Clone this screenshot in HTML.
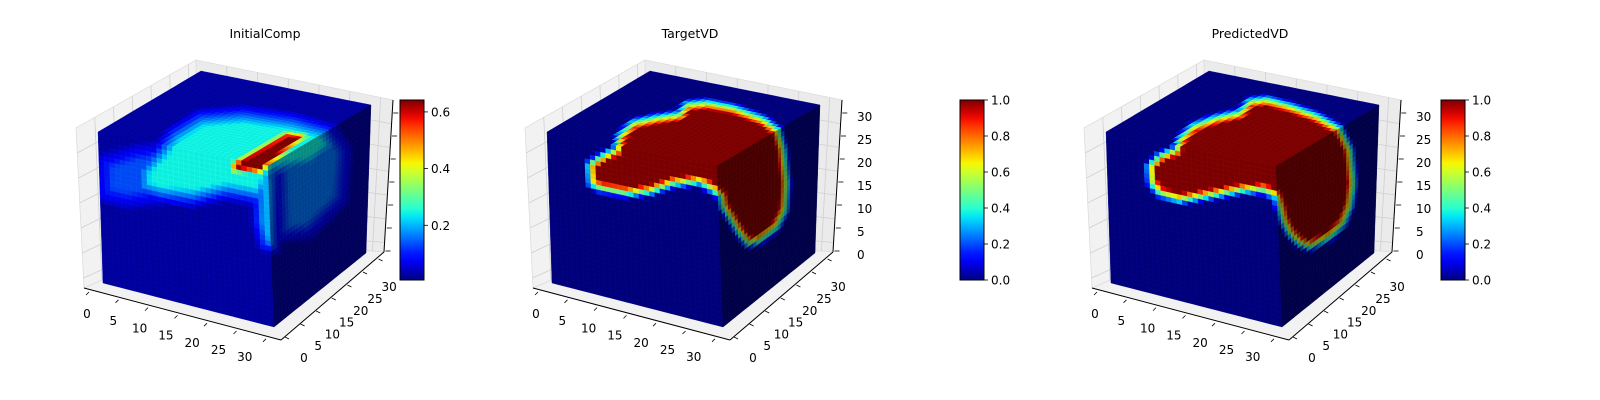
<!DOCTYPE html>
<html><head><meta charset="utf-8"><style>
html,body{margin:0;padding:0;background:#fff;}
svg{display:block;font-family:"DejaVu Sans","Liberation Sans",sans-serif;}
</style></head><body>
<svg id="chart" width="1600" height="400" viewBox="0 0 1600 400" xmlns="http://www.w3.org/2000/svg">
<rect width="1600" height="400" fill="#fff"/>
</svg>
<script>
// ---- data ----
const panelTitles = ["InitialComp", "TargetVD", "PredictedVD"];
const axisTickLabels = ["0", "5", "10", "15", "20", "25", "30"];
const cbarTicks1 = ["0.2", "0.4", "0.6"];
const cbarTickVals1 = [0.2, 0.4, 0.6];
const cbarRange1 = [0.007, 0.642];
const cbarTicks2 = ["0.0", "0.2", "0.4", "0.6", "0.8", "1.0"];
const cbarTickVals2 = [0, 0.2, 0.4, 0.6, 0.8, 1.0];
const cbarRange2 = [0, 1];
const baseLevel = [0.03, 0.0, 0.0];
// regions: points in zoomed coordinates (x3), normalized value, softness (px)
const regions1 = [
  {v:0.2, s:24, p:[[125,330],[230,300],[330,290],[360,380],[300,450],[200,460],[125,440]]},
  {v:0.37, s:22, p:[[240,360],[300,300],[340,250],[420,200],[550,190],[700,210],[800,240],[830,290],[760,350],[650,370],[620,420],[600,450],[560,440],[500,430],[400,450],[300,440],[240,420]]},
  {v:0.3, s:16, p:[[590,380],[650,370],[650,600],[610,590],[590,520]]},
  {v:0.24, s:24, p:[[650,260],[820,240],[860,300],[850,450],[750,550],[660,560]]},
  {v:1.0, s:10, p:[[515,340],[680,245],[745,255],[600,372],[515,365]]}
];
const regions2 = [
  {v:1.0, s:13, p:[[270,345],[300,325],[350,300],[360,260],[400,220],[470,205],[540,195],[560,165],[620,160],[700,175],[790,210],[835,245],[850,300],[860,400],[855,480],[830,530],[780,570],[745,580],[720,550],[690,500],[670,470],[665,440],[640,420],[600,395],[520,400],[450,425],[380,430],[300,415],[275,400]]}
];
const regions3 = [
  {v:1.0, s:13, p:[[300,350],[330,320],[380,300],[390,270],[430,230],[500,205],[570,190],[600,155],[650,150],[720,170],[800,200],[870,240],[900,300],[910,400],[900,470],[880,520],[840,560],[780,590],[750,580],[720,550],[700,510],[690,470],[680,440],[640,420],[580,420],[520,430],[460,440],[390,450],[330,430],[305,400]]}
];
const panelRegions = [regions1, regions2, regions3];
const zoomOrigin = [60, 500, 1050];
const panelShift = [-449, 0, 559];
const cbarX = [400, 960, 1441];
const titleX = [265, 690, 1250];
const N = 32;

// ---- helpers ----
const NS = "http://www.w3.org/2000/svg";
const svg = document.getElementById("chart");
function mk(tag, attrs, parent){ const e=document.createElementNS(NS,tag); for(const k in attrs) e.setAttribute(k,attrs[k]); (parent||svg).appendChild(e); return e; }
function interp(pts,t){ for(let i=0;i<pts.length-1;i++){ if(t<=pts[i+1][0]){ const a=pts[i],b=pts[i+1]; return a[1]+(b[1]-a[1])*(t-a[0])/(b[0]-a[0]); } } return pts[pts.length-1][1]; }
function jet(t){ t=Math.max(0,Math.min(1,t));
  return [interp([[0,0],[0.35,0],[0.66,1],[0.89,1],[1,0.5]],t), interp([[0,0],[0.125,0],[0.375,1],[0.64,1],[0.91,0],[1,0]],t), interp([[0,0.5],[0.11,1],[0.34,1],[0.65,0],[1,0]],t)]; }
function rgb(c,f){ return "rgb("+c.map(v=>Math.round(Math.min(255,v*f*255))).join(",")+")"; }
function inside(p,x,y){ let c=false; for(let i=0,j=p.length-1;i<p.length;j=i++){ const xi=p[i][0],yi=p[i][1],xj=p[j][0],yj=p[j][1]; if(((yi>y)!=(yj>y)) && (x<(xj-xi)*(y-yi)/(yj-yi)+xi)) c=!c; } return c; }
function segDist(x,y,a,b){ const dx=b[0]-a[0],dy=b[1]-a[1]; let t=((x-a[0])*dx+(y-a[1])*dy)/(dx*dx+dy*dy); t=Math.max(0,Math.min(1,t)); const px=a[0]+t*dx-x,py=a[1]+t*dy-y; return Math.sqrt(px*px+py*py); }
function field(pi,x,y){ let v=baseLevel[pi]; const ox=zoomOrigin[pi];
  for(const r of panelRegions[pi]){ const p=r.p.map(q=>[ox+q[0]/3,50+q[1]/3]); let d=Infinity; for(let i=0;i<p.length;i++){ d=Math.min(d,segDist(x,y,p[i],p[(i+1)%p.length])); } const sd=inside(p,x,y)?d:-d; const w=r.v*Math.max(0,Math.min(1,0.5+sd/r.s)); v=Math.max(v,w);} return v; }
function bil(A,B,C,D,u,v){
  const tx=A[0]+(B[0]-A[0])*u, ty=A[1]+(B[1]-A[1])*u, bx=D[0]+(C[0]-D[0])*u, by=D[1]+(C[1]-D[1])*u;
  return [tx+(bx-tx)*v, ty+(by-ty)*v]; }

// ---- panels ----
for(let pi=0;pi<3;pi++){
  const s=panelShift[pi];
  const P=(x,y)=>[x+s,y];
  const g=mk("g",{});
  const t=mk("text",{x:titleX[pi],y:38,"font-size":12.5,"text-anchor":"middle",fill:"#000"},g); t.textContent=panelTitles[pi];
  
  
  const panes=[[[533,288],[525,128],[645,60],[648,237]],[[645,60],[842,100],[833,252],[648,237]],[[533,288],[730,340],[833,252],[648,237]]];
  panes.forEach((pp,k)=>{ const e=mk("polygon",{points:pp.map(q=>P(q[0],q[1]).join(",")).join(" "),fill:k==1?"#ebebeb":"#f2f2f2",stroke:"#ddd","stroke-width":0.8},g);
    
     });
  for(let i=1;i<7;i++){ const f=i/6.4;
    const a=bil(P(645,60),P(842,100),P(833,252),P(648,237),f,0), b=bil(P(645,60),P(842,100),P(833,252),P(648,237),f,1);
    mk("line",{x1:a[0],y1:a[1],x2:b[0],y2:b[1],stroke:"#d0d0d0","stroke-width":0.8},g);
    const c=bil(P(645,60),P(842,100),P(833,252),P(648,237),0,f), d=bil(P(645,60),P(842,100),P(833,252),P(648,237),1,f);
    mk("line",{x1:c[0],y1:c[1],x2:d[0],y2:d[1],stroke:"#d0d0d0","stroke-width":0.8},g);
    const e1=bil(P(525,128),P(645,60),P(648,237),P(533,288),f,0), e2=bil(P(525,128),P(645,60),P(648,237),P(533,288),f,1);
    mk("line",{x1:e1[0],y1:e1[1],x2:e2[0],y2:e2[1],stroke:"#d0d0d0","stroke-width":0.8},g);
    const h1=bil(P(525,128),P(645,60),P(648,237),P(533,288),0,f), h2=bil(P(525,128),P(645,60),P(648,237),P(533,288),1,f);
    mk("line",{x1:h1[0],y1:h1[1],x2:h2[0],y2:h2[1],stroke:"#d0d0d0","stroke-width":0.8},g);
  }
  [[[533,288],[730,340]],[[730,340],[833,252]],[[842,100],[833,252]]].forEach(l=>{ const a=P(l[0][0],l[0][1]),b=P(l[1][0],l[1][1]);
    const e=mk("line",{x1:a[0],y1:a[1],x2:b[0],y2:b[1],stroke:"#000","stroke-width":1},g);
    
     });
  axisTickLabels.forEach((lab,i)=>{
    const xa=P(536+i*26.3,318+i*7.2);
    const tx=mk("text",{x:xa[0],y:xa[1],"font-size":12,"text-anchor":"middle",fill:"#000"},g); tx.textContent=lab;
    
    
    const xt=P(538+i*29.5,292+i*7.8); mk("line",{x1:xt[0],y1:xt[1],x2:xt[0]-3,y2:xt[1]+3,stroke:"#000","stroke-width":0.8},g);
    const ya=P(753+i*14.2,362-i*11.8);
    const ty=mk("text",{x:ya[0],y:ya[1],"font-size":12,"text-anchor":"middle",fill:"#000"},g); ty.textContent=lab;
    
    
    const yt=P(734+i*15.6,337-i*13); mk("line",{x1:yt[0],y1:yt[1],x2:yt[0]+4,y2:yt[1]+2,stroke:"#000","stroke-width":0.8},g);
    const zt=P(834.5+i*1.3, 251-i*23);
    mk("line",{x1:zt[0],y1:zt[1],x2:zt[0]+5,y2:zt[1],stroke:"#000","stroke-width":0.8},g);
    if(pi>0){ const za=P(857,259-i*23);
      const tz=mk("text",{x:za[0],y:za[1],"font-size":12,fill:"#000"},g); tz.textContent=lab;
      
       }
  });
  const FTL=P(547,132),FTR=P(717,166),BTR=P(820,105),BTL=P(650,71),FBL=P(552,283),FBR=P(723,327),BBR=P(815,253);
  const faces=[{n:"top",q:[BTL,BTR,FTR,FTL],f:0.95},{n:"front",q:[FTL,FTR,FBR,FBL],f:0.95},{n:"right",q:[FTR,BTR,BBR,FBR],f:0.55}];
  faces.forEach(fc=>{
    const fg=mk("g",{},g);
    const [A,B,C,D]=fc.q;
    for(let i=0;i<N;i++) for(let j=0;j<N;j++){
      const c=bil(A,B,C,D,(i+0.5)/N,(j+0.5)/N);
      const val=field(pi,c[0],c[1]);
      const p1=bil(A,B,C,D,i/N,j/N),p2=bil(A,B,C,D,(i+1)/N,j/N),p3=bil(A,B,C,D,(i+1)/N,(j+1)/N),p4=bil(A,B,C,D,i/N,(j+1)/N);
      const col=jet(val);
      const e=mk("polygon",{points:[p1,p2,p3,p4].map(q=>q[0].toFixed(1)+","+q[1].toFixed(1)).join(" "),fill:rgb(col,fc.f),stroke:rgb(col,fc.f*1.12),"stroke-width":0.4},fg);
      
      
    }
  });
  const cx=cbarX[pi], cg=mk("g",{});
  const gid="jetgrad"+pi; const defs=mk("defs",{},cg);
  const lg=mk("linearGradient",{id:gid,x1:0,y1:1,x2:0,y2:0},defs);
  for(let k=0;k<=20;k++){ mk("stop",{offset:k/20,"stop-color":rgb(jet(k/20),1)},lg); }
  const cb=mk("rect",{x:cx,y:100,width:24,height:180,fill:"url(#"+gid+")",stroke:"#000","stroke-width":1},cg);
  
  
  const labs=pi==0?cbarTicks1:cbarTicks2, vals=pi==0?cbarTickVals1:cbarTickVals2, rng=pi==0?cbarRange1:cbarRange2;
  labs.forEach((lab,k)=>{ const y=280-(vals[k]-rng[0])/(rng[1]-rng[0])*180;
    mk("line",{x1:cx+24,y1:y,x2:cx+28,y2:y,stroke:"#000","stroke-width":0.8},cg);
    const tt=mk("text",{x:cx+31,y:y+4.5,"font-size":12,fill:"#000"},cg); tt.textContent=lab;
    
     });
}
</script>
</body></html>
